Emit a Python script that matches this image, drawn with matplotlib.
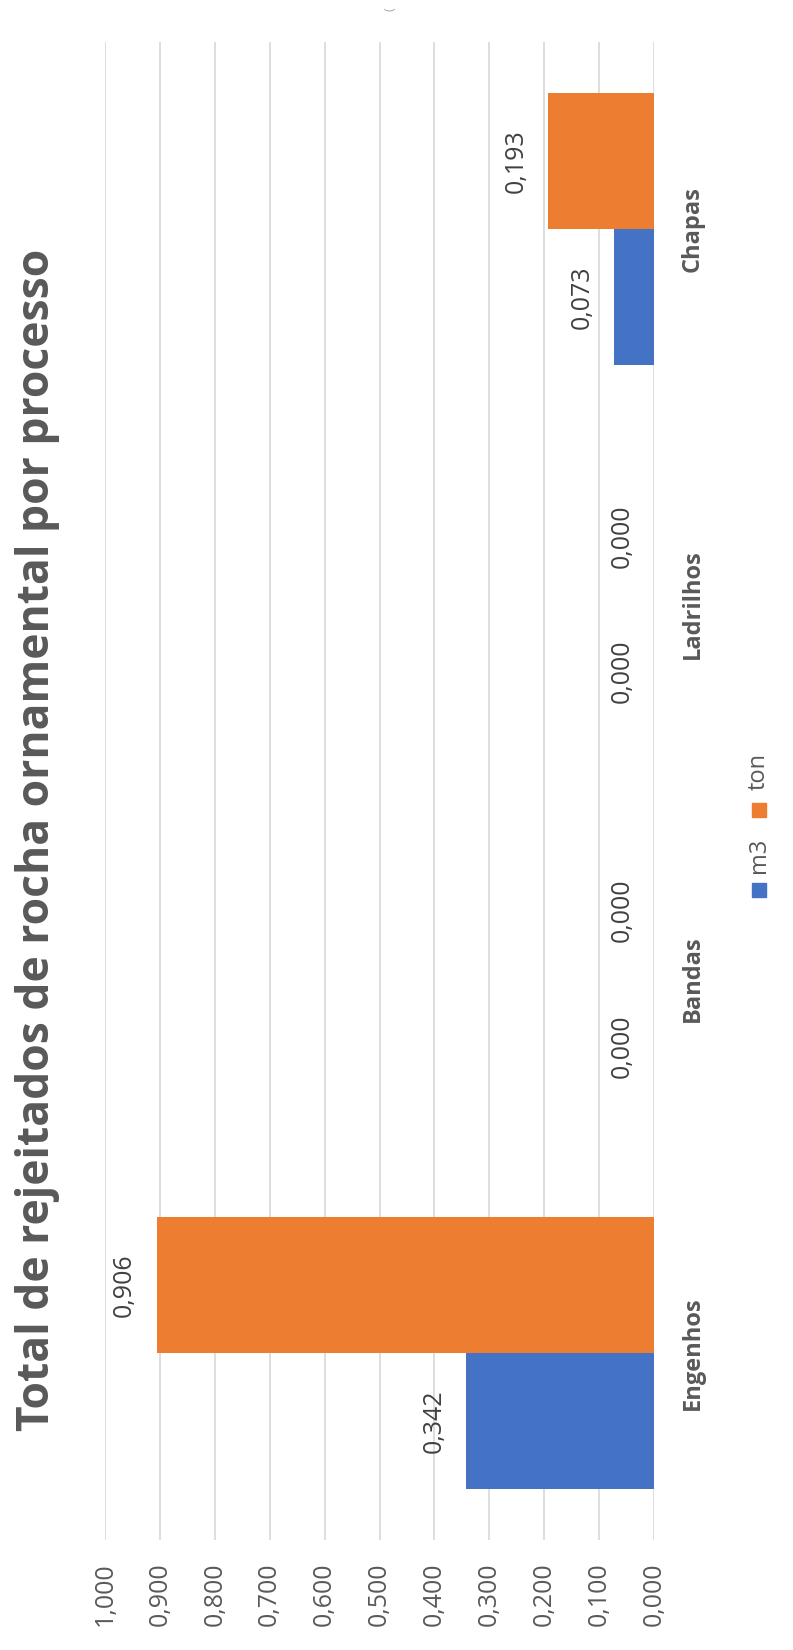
import matplotlib
matplotlib.use("Agg")
import matplotlib.pyplot as plt
from matplotlib.patches import Rectangle
import numpy as np

# ---- data ----
categories = ["Engenhos", "Bandas", "Ladrilhos", "Chapas"]
series_names = ["m3", "ton"]
m3_values = [0.342, 0.000, 0.000, 0.073]
ton_values = [0.906, 0.000, 0.000, 0.193]
value_ticks = [0.0, 0.1, 0.2, 0.3, 0.4, 0.5, 0.6, 0.7, 0.8, 0.9, 1.0]
title = "Total de rejeitados de rocha ornamental por processo"

# ---- style ----
W, H, DPI = 793, 1650, 100
BLUE = "#4472C4"
ORANGE = "#ED7D31"
GRID = "#D9D9D9"
TXT = "#595959"
LBL = "#404040"
FONT = "Open Sans"

plt.rcParams["font.family"] = [FONT, "DejaVu Sans"]

fig = plt.figure(figsize=(W / DPI, H / DPI), dpi=DPI)


def fx(x):
    return x / W


def fy(y):
    return 1 - y / H


# plot area in pixels (rotated chart): value axis horizontal, inverted
x_left, x_right = 105, 654   # value 1.0 at left, 0.0 at right
y_top, y_bot = 42, 1540
ax = fig.add_axes([fx(x_left), fy(y_bot), (x_right - x_left) / W, (y_bot - y_top) / H])

n = len(categories)
pos = np.arange(n)
bh = 0.363
ax.barh(pos - bh / 2, m3_values, height=bh, color=BLUE, zorder=3, label=series_names[0])
ax.barh(pos + bh / 2, ton_values, height=bh, color=ORANGE, zorder=3, label=series_names[1])

ax.set_xlim(1.0, 0.0)
ax.set_ylim(-0.5, n - 0.5)

for v in value_ticks:
    ax.axvline(v, color=GRID, lw=1.25, zorder=1)

for s in ax.spines.values():
    s.set_visible(False)

ax.set_xticks(value_ticks)
ax.set_xticklabels([f"{v:.3f}".replace(".", ",") for v in value_ticks],
                   rotation=90, fontsize=18, color=TXT, family=FONT)
ax.tick_params(axis="x", length=0, pad=16)

ax.yaxis.tick_right()
ax.set_yticks(pos)
ax.set_yticklabels(categories, rotation=90, fontsize=17, color=TXT,
                   fontweight="bold", va="center", ha="left", family=FONT)
ax.tick_params(axis="y", length=0, pad=19)


def fmt(v):
    return f"{v:.3f}".replace(".", ",")


for vals, off in ((m3_values, -bh / 2), (ton_values, bh / 2)):
    for p, v in zip(pos, vals):
        ax.annotate(fmt(v), xy=(v, p + off), xytext=(-23, 0), textcoords="offset points",
                    rotation=90, ha="center", va="center", fontsize=18, color=LBL,
                    family=FONT)

# title
t = fig.text(fx(38), fy(840), title, rotation=90, ha="center", va="center",
             fontsize=30, fontweight="bold", color=TXT, family=FONT)
fig.canvas.draw()
r = fig.canvas.get_renderer()
ext = t.get_window_extent(r)
t.set_fontsize(30 * 1181 / ext.height)

# legend (rotated)
sq = 14
leg_x = 759
legend_items = [(series_names[0], BLUE, 889.5, 855), (series_names[1], ORANGE, 810, 771)]
for name, col, ysq, ytxt in legend_items:
    fig.add_artist(Rectangle((fx(leg_x - sq / 2), fy(ysq + sq / 2)), sq / W, sq / H,
                             transform=fig.transFigure, color=col))
    fig.text(fx(leg_x), fy(ytxt), name, rotation=90, ha="center", va="center",
             fontsize=17, color=TXT, family=FONT)

# faint cut-off mark at top edge
fig.text(fx(390), fy(9), "(", rotation=90, ha="center", va="center", fontsize=9, color="#A6A6A6")

fig.savefig("out.png", dpi=DPI)
